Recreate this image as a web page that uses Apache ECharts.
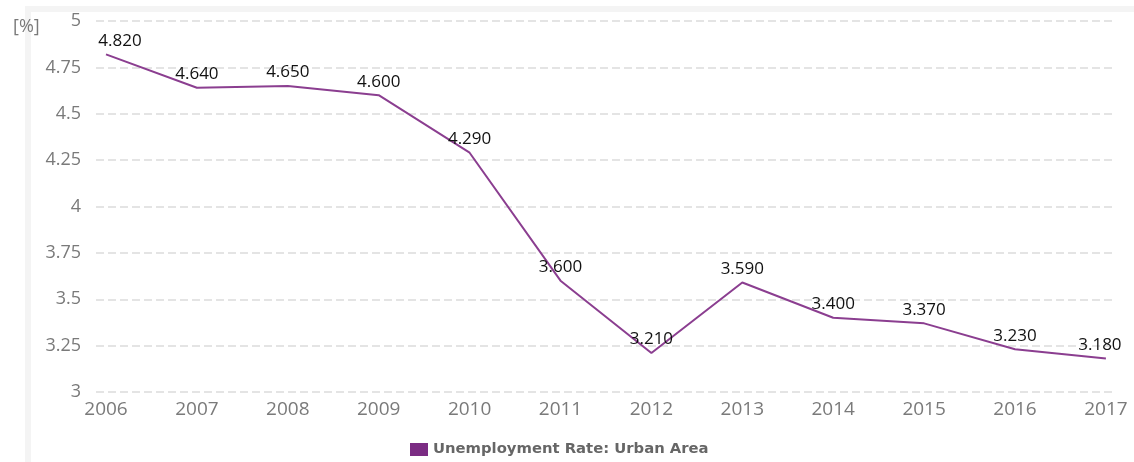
<!DOCTYPE html>
<html>
<head>
<meta charset="utf-8">
<script src="https://cdn.jsdelivr.net/npm/echarts@6/dist/echarts.min.js"></script>
<style>
html,body{margin:0;padding:0;background:#fff;}
#c{width:1134px;height:462px;}
</style>
</head>
<body>
<div id="c"></div>
<script>
const years = [2006, 2007, 2008, 2009, 2010, 2011, 2012, 2013, 2014, 2015, 2016, 2017];
const rates = [4.82, 4.64, 4.65, 4.60, 4.29, 3.60, 3.21, 3.59, 3.40, 3.37, 3.23, 3.18];
const yTicks = [3, 3.25, 3.5, 3.75, 4, 4.25, 4.5, 4.75, 5];
const seriesName = 'Unemployment Rate: Urban Area';
const unitLabel = '[%]';

const chart = echarts.init(document.getElementById('c'), null, {renderer: 'canvas'});
const data = years.map((y, i) => {
  const item = {value: [y, rates[i]]};
  if (i === 0) item.label = {offset: [14, 0]};
  if (i === years.length - 1) item.label = {offset: [-6, 0]};
  return item;
});
chart.setOption({
  animation: false,
  backgroundColor: '#ffffff',
  graphic: [
    {type: 'rect', shape: {x: 25, y: 6, width: 1109, height: 6}, style: {fill: '#f4f4f4'}, silent: true, z: -10},
    {type: 'rect', shape: {x: 25, y: 6, width: 6, height: 456}, style: {fill: '#f4f4f4'}, silent: true, z: -10},
    {type: 'text', left: 13, top: 18, style: {text: unitLabel, fill: '#7a7a7a', font: '18px "Open Sans"'}}
  ],
  grid: {left: 96, right: 19, top: 21, bottom: 70, containLabel: false},
  legend: {
    bottom: 0, left: 405,
    itemWidth: 18, itemHeight: 13, itemGap: 6,
    icon: 'rect',
    textStyle: {color: '#666', fontFamily: 'DejaVu Sans', fontWeight: 'bold', fontSize: 14.8},
    data: [{name: seriesName, itemStyle: {color: '#7b2c83'}}]
  },
  xAxis: {
    type: 'value',
    min: 2005.89, max: 2017.1,
    splitLine: {show: false},
    axisLine: {show: false},
    axisTick: {show: false},
    axisLabel: {
      customValues: years,
      color: '#7a7a7a', fontFamily: 'Open Sans', fontSize: 19, margin: 8,
      formatter: v => String(v)
    }
  },
  yAxis: {
    type: 'value',
    min: 3, max: 5, interval: 0.25,
    axisLine: {show: false},
    axisTick: {show: false},
    axisLabel: {color: '#7a7a7a', fontFamily: 'Open Sans', fontSize: 18, margin: 15,
      formatter: v => String(+v.toFixed(2))},
    splitLine: {lineStyle: {color: '#dcdcdc', type: [8, 4], width: 1.5}}
  },
  series: [{
    name: seriesName,
    type: 'line',
    data: data,
    showSymbol: true,
    symbol: 'circle',
    symbolSize: 0,
    lineStyle: {color: '#8b3e90', width: 2},
    itemStyle: {color: '#7b2c83'},
    label: {
      show: true, position: 'top', distance: 5,
      color: '#111', fontFamily: 'Open Sans', fontSize: 17,
      formatter: p => p.value[1].toFixed(3)
    }
  }]
});
</script>
</body>
</html>
